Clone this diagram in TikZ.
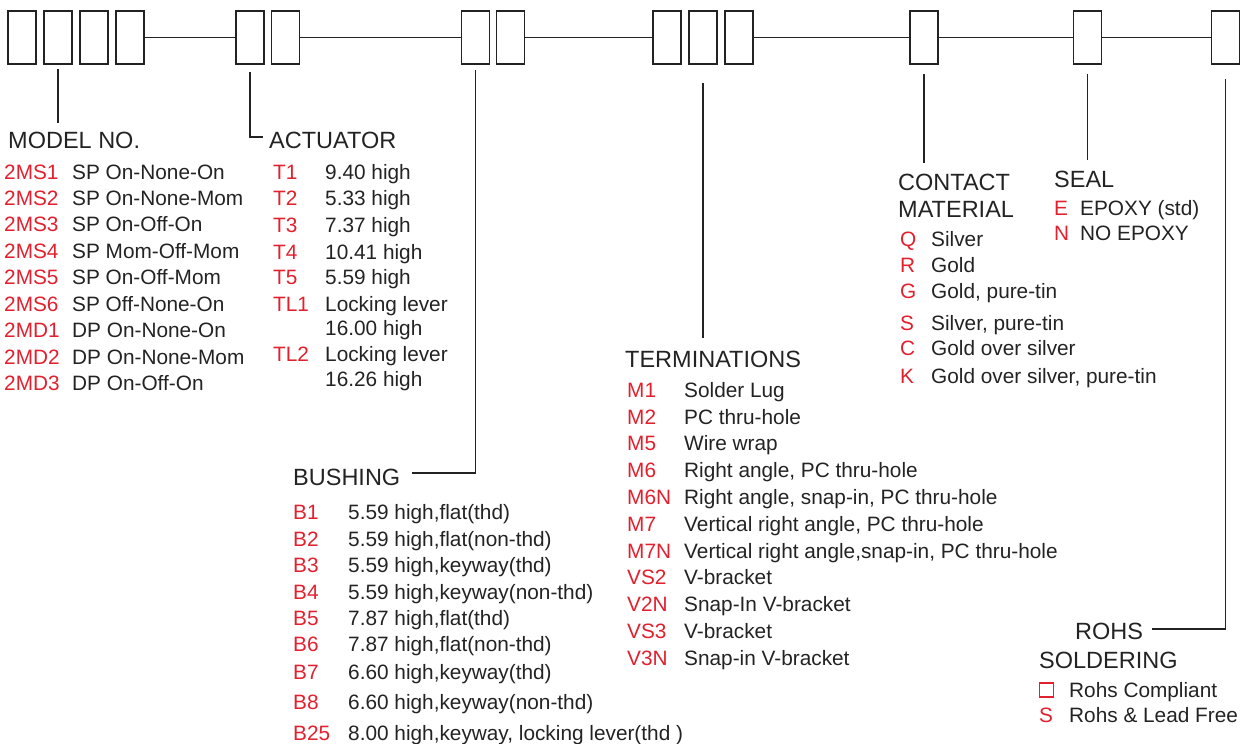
\documentclass[tikz,border=0pt]{standalone}
\usepackage{fontspec}
\setmainfont{Liberation Sans}
\usetikzlibrary{positioning}

\definecolor{codered}{RGB}{226,32,46}
\definecolor{ink}{RGB}{35,35,35}

\tikzset{
    digit/.style={draw=ink, line width=1.8pt, minimum width=28pt, minimum height=53pt, inner sep=0pt},
    lead/.style={draw=ink, line width=1.8pt},
    head/.style={anchor=base west, inner sep=0pt, text=ink, font=\fontsize{23.5}{28}\selectfont},
    code/.style={anchor=base west, inner sep=0pt, text=codered, font=\fontsize{20.8}{25}\selectfont},
    desc/.style={anchor=base west, inner sep=0pt, text=ink, font=\fontsize{20.8}{25}\selectfont}
}

\begin{document}
\begin{tikzpicture}[x=1pt,y=-1pt]
\useasboundingbox (0,0) rectangle (1242,744);

% Code boxes
\node[digit] (m1) at (22,37.5) {};
\node[digit] (m2) at (58,37.5) {};
\node[digit] (m3) at (94,37.5) {};
\node[digit] (m4) at (130,37.5) {};
\node[digit] (a1) at (250,37.5) {};
\node[digit] (a2) at (285.5,37.5) {};
\node[digit] (b1) at (475.5,37.5) {};
\node[digit] (b2) at (510.5,37.5) {};
\node[digit] (t1) at (667,37.5) {};
\node[digit] (t2) at (703,37.5) {};
\node[digit] (t3) at (739,37.5) {};
\node[digit] (c1) at (924,37.5) {};
\node[digit] (s1) at (1087.5,37.5) {};
\node[digit] (r1) at (1225.5,37.5) {};

% Joining line
\draw[lead] (m4.east) -- (a1.west);
\draw[lead] (a2.east) -- (b1.west);
\draw[lead] (b2.east) -- (t1.west);
\draw[lead] (t3.east) -- (c1.west);
\draw[lead] (c1.east) -- (s1.west);
\draw[lead] (s1.east) -- (r1.west);

% Headings
\node[head] (model) at (8,148) {MODEL NO.};
\node[head] (act) at (269,148) {ACTUATOR};
\node[head] (bush) at (293,485) {BUSHING};
\node[head] (term) at (625,367) {TERMINATIONS};
\node[head] (cont) at (898,190) {CONTACT};
\node[head] (mat) at (898,217) {MATERIAL};
\node[head] (seal) at (1054,187) {SEAL};
\node[head] (rohs) at (1075,639) {ROHS};
\node[head] (sold) at (1039,668) {SOLDERING};

% Leads
\coordinate (modelend) at (58,123);
\coordinate (actend) at (263,137);
\coordinate (bushend) at (412,473);
\coordinate (termend) at (703,338);
\coordinate (contend) at (924,163);
\coordinate (sealend) at (1087.5,160);
\coordinate (rohsend) at (1152,629);
\draw[lead] ([yshift=-4pt]m2.south) -- (modelend);
\draw[lead] ([yshift=-7pt]a1.south) |- (actend);
\draw[lead] ([yshift=-5pt]b1.south) |- (bushend);
\draw[lead] ([yshift=-18pt]t2.south) -- (termend);
\draw[lead] ([yshift=-9pt]c1.south) -- (contend);
\draw[lead] ([yshift=-9pt]s1.south) -- (sealend);
\draw[lead] ([yshift=-14pt]r1.south) |- (rohsend);

% Model no.
\foreach \c/\d [count=\i] in {2MS1/SP On-None-On, 2MS2/SP On-None-Mom, 2MS3/SP On-Off-On,
    2MS4/SP Mom-Off-Mom, 2MS5/SP On-Off-Mom, 2MS6/SP Off-None-On,
    2MD1/DP On-None-On, 2MD2/DP On-None-Mom, 2MD3/DP On-Off-On} {
    \node[code] (mc\i) at (4,{179+26.45*(\i-1)}) {\c};
    \node[desc] (md\i) at (72,{179+26.45*(\i-1)}) {\d};
}

% Actuator
\foreach \c/\d/\y [count=\i] in {T1/9.40 high/179, T2/5.33 high/205.6, T3/7.37 high/232.3,
    T4/10.41 high/259, T5/5.59 high/284.3, TL1/Locking lever/311.3, TL2/Locking lever/361.3} {
    \node[code] (ac\i) at (273,\y) {\c};
    \node[desc] (ad\i) at (325,\y) {\d};
}
\node[desc] (ad6b) at (325,335.6) {16.00 high};
\node[desc] (ad7b) at (325,386.3) {16.26 high};

% Bushing
\foreach \c/\d/\y [count=\i] in {B1/{5.59 high,flat(thd)}/519.3, B2/{5.59 high,flat(non-thd)}/546.3,
    B3/{5.59 high,keyway(thd)}/572.3, B4/{5.59 high,keyway(non-thd)}/599.3,
    B5/{7.87 high,flat(thd)}/625.3, B6/{7.87 high,flat(non-thd)}/651.3,
    B7/{6.60 high,keyway(thd)}/679.3, B8/{6.60 high,keyway(non-thd)}/709.3,
    B25/{8.00 high,keyway, locking lever(thd )}/740} {
    \node[code] (bc\i) at (293,\y) {\c};
    \node[desc] (bd\i) at (348,\y) {\d};
}

% Terminations
\foreach \c/\d [count=\i] in {M1/Solder Lug, M2/PC thru-hole, M5/Wire wrap,
    M6/{Right angle, PC thru-hole}, M6N/{Right angle, snap-in, PC thru-hole},
    M7/{Vertical right angle, PC thru-hole}, M7N/{Vertical right angle,snap-in, PC thru-hole},
    VS2/V-bracket, V2N/Snap-In V-bracket, VS3/V-bracket, V3N/Snap-in V-bracket} {
    \node[code] (tc\i) at (627,{397.3+26.8*(\i-1)}) {\c};
    \node[desc] (td\i) at (684,{397.3+26.8*(\i-1)}) {\d};
}

% Contact material
\foreach \c/\d/\y [count=\i] in {Q/Silver/246.3, R/Gold/272.3, G/{Gold, pure-tin}/298.3,
    S/{Silver, pure-tin}/330.3, C/Gold over silver/355.3, K/{Gold over silver, pure-tin}/383.3} {
    \node[code] (cc\i) at (900,\y) {\c};
    \node[desc] (cd\i) at (931,\y) {\d};
}

% Seal
\node[code] (sc1) at (1054,215.5) {E};
\node[desc] (sd1) at (1080,215.5) {EPOXY (std)};
\node[code] (sc2) at (1054,240) {N};
\node[desc] (sd2) at (1080,240) {NO EPOXY};

% Rohs soldering
\node[draw=codered, line width=1.2pt, minimum size=14pt, inner sep=0pt] (rc1) at (1046.5,690) {};
\node[desc] (rd1) at (1069,697) {Rohs Compliant};
\node[code] (rc2) at (1039,722) {S};
\node[desc] (rd2) at (1069,722) {Rohs \& Lead Free};
\end{tikzpicture}
\end{document}
